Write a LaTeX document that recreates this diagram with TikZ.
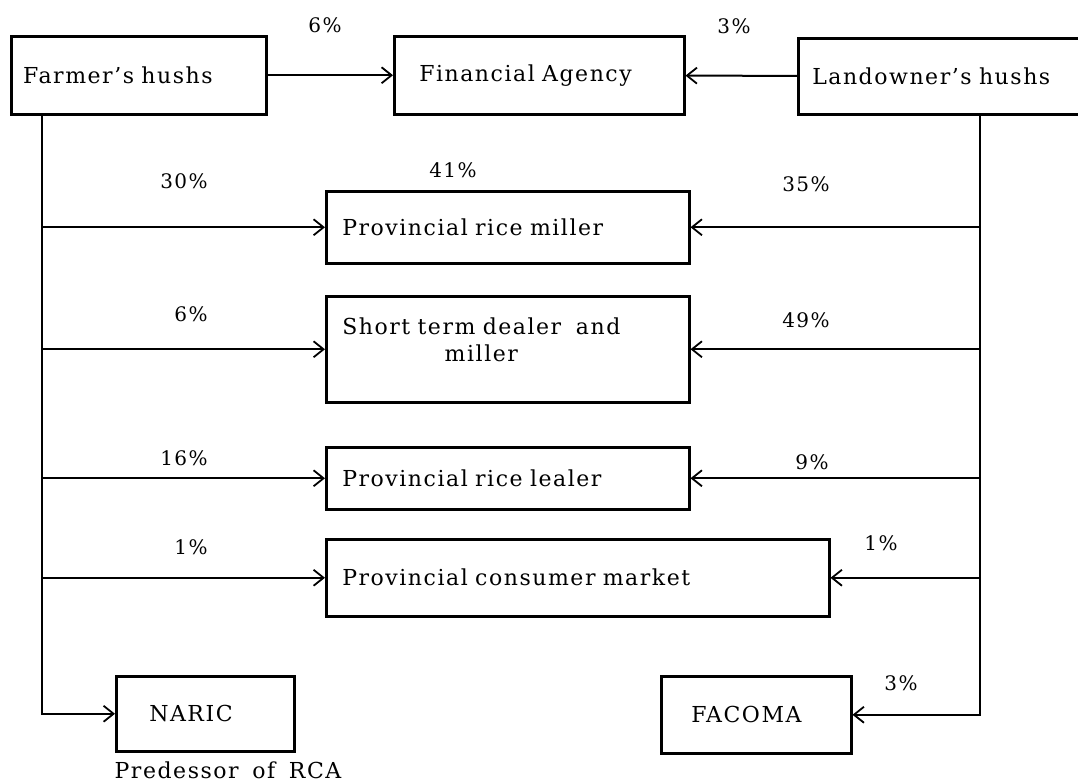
\documentclass[tikz,border=0pt]{standalone}
\usepackage{fontspec}
\setmainfont[LetterSpace=7, WordSpace=1.6]{DejaVu Serif}
\usetikzlibrary{arrows.meta,positioning}

\tikzset{
  box/.style={draw, line width=2.5pt, anchor=north west, align=left, inner ysep=0pt},
  flow/.style={line width=2pt, -{Straight Barb[length=10pt,width=16pt,line width=1.8pt]}},
  pct/.style={font=\fontsize{20}{24}\selectfont},
}

\begin{document}
\begin{tikzpicture}[x=1pt, y=-1pt, font=\fontsize{22}{27}\selectfont]
  \useasboundingbox (0,0) rectangle (1078,782);
  \clip (0,0) rectangle (1078,782);

  % top row
  \node[box, text width=231pt, inner xsep=12pt, minimum height=78pt] (farmer) at (10,35) {Farmer's hushs};
  \node[box, text width=240pt, inner xsep=25pt, minimum height=78pt] (agency) at (393,35) {Financial Agency};
  \node[box, text width=272pt, inner xsep=14pt, minimum height=76pt] (landowner) at (797,37) {Landowner's hushs};

  % buyers in the middle
  \node[box, text width=331pt, inner xsep=16pt, minimum height=72pt] (miller) at (325,190) {Provincial rice miller};
  \node[box, text width=331pt, inner xsep=16pt, minimum height=106pt] (shortterm) at (325,295)
    {\raisebox{0pt}[\height][\dimexpr\depth+14pt]{\begin{tabular}{@{}c@{}}Short term dealer\ \ and\\ miller\end{tabular}}};
  \node[box, text width=331pt, inner xsep=16pt, minimum height=62pt] (lealer) at (325,446) {Provincial rice lealer};
  \node[box, text width=471pt, inner xsep=16pt, minimum height=77pt] (consumer) at (325,538) {Provincial consumer market};

  % bottom row
  \node[box, text width=112pt, inner xsep=33pt, minimum height=75pt] (naric) at (115,675) {NARIC};
  \node[box, text width=130pt, inner xsep=30pt, minimum height=77pt] (facoma) at (660,675) {FACOMA};
  \node (naricnote) at (228,770) {Predessor of RCA};

  % trunks
  \coordinate (fl) at (42,0);
  \coordinate (lr) at (980,0);

  \draw[flow] (farmer) -- (agency);
  \draw[flow] (landowner) -- (agency);

  \draw[flow] (farmer.south -| fl) |- (naric.west);
  \foreach \dest in {miller, shortterm, lealer, consumer}
    \draw[flow] (\dest.west -| fl) -- (\dest.west);

  \draw[flow] (landowner.south -| lr) |- (facoma.east);
  \foreach \dest in {miller, shortterm, lealer, consumer}
    \draw[flow] (\dest.east -| lr) -- (\dest.east);

  % shares
  \foreach \x/\y/\t [count=\i] in {325/25/6, 734/26/3, 184/181/30, 453/170/41, 806/184/35,
      191/314/6, 806/320/49, 184/458/16, 812/462/9, 191/547/1, 881/543/1, 901/683/3}
    \node[pct] (share\i) at (\x,\y) {\t\%};
\end{tikzpicture}
\end{document}
